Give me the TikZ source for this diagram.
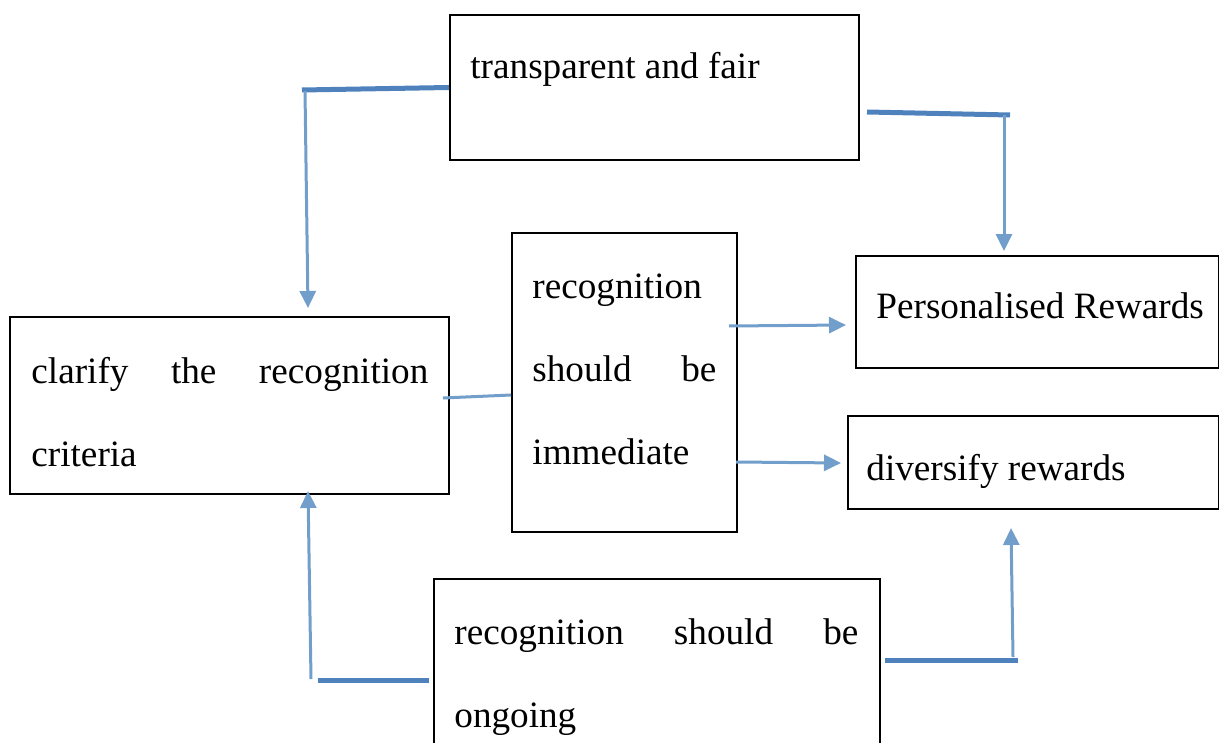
\documentclass[tikz,border=0pt]{standalone}
\usepackage{fontspec}
\setmainfont{Liberation Serif}
\usetikzlibrary{arrows.meta}
\definecolor{barblue}{RGB}{79,129,189}
\definecolor{linkblue}{RGB}{113,158,202}
\hyphenpenalty=10000
\exhyphenpenalty=10000

\begin{document}
\begin{tikzpicture}[x=0.5pt,y=-0.5pt,
    box/.style={draw,line width=1pt,inner sep=0pt,anchor=north west},
    txt/.style={inner sep=0pt,anchor=base west,font=\fontsize{18.6}{41.5}\selectfont},
    para/.style={txt,text width=#1,align=justify},
    bar/.style={draw=barblue,line width=2.5pt},
    link/.style={draw=linkblue,line width=1.5pt},
    tip/.style={link,-{Triangle[length=8.5pt,width=8pt]}}]

    \useasboundingbox (0,0) rectangle (1219,743);
    \clip (0,0) rectangle (1219,743);

    % boxes
    \node[box,minimum width=204.5pt,minimum height=72.5pt] (fair) at (449,14) {};
    \node[box,minimum width=181.5pt,minimum height=56pt] (personal) at (855,255) {};
    \node[box,minimum width=185.5pt,minimum height=46.5pt] (diversify) at (847,415) {};
    \node[box,minimum width=112.5pt,minimum height=149.5pt] (immediate) at (511,232) {};
    \node[box,minimum width=219.5pt,minimum height=88.5pt] (criteria) at (9,316) {};
    \node[box,minimum width=223pt,minimum height=100pt] (ongoing) at (433,578) {};

    % texts
    \node[txt] (fairT) at (470,79) {transparent and fair};
    \node[txt] (personalT) at (876,318) {Personalised Rewards};
    \node[txt] (diversifyT) at (866,480) {diversify rewards};
    \node[para=92pt] (immediateT) at (532,298) {recognition should be immediate};
    \node[para=198.5pt] (criteriaT) at (31,383) {clarify the recognition criteria};
    \node[para=202pt] (ongoingT) at (454,644) {recognition should be ongoing};

    % bend points
    \coordinate (tlBar) at (302,90);
    \coordinate (tlTop) at (305,91);
    \coordinate (tlEnd) at (308,308);
    \coordinate (trBarA) at (867,112);
    \coordinate (trBarB) at (1010,115);
    \coordinate (trTop) at (1004,115);
    \coordinate (trEnd) at (1004,251);
    \coordinate (midA) at (443,398);
    \coordinate (midB) at (511,395);
    \coordinate (upA) at (729,326);
    \coordinate (upEnd) at (846,325);
    \coordinate (dnA) at (736,462);
    \coordinate (dnEnd) at (841,463);
    \coordinate (blBarA) at (318,680);
    \coordinate (blBarB) at (429,680);
    \coordinate (blBot) at (311,679);
    \coordinate (blEnd) at (308,491);
    \coordinate (brBarA) at (885,660);
    \coordinate (brBarB) at (1018,660);
    \coordinate (brBot) at (1013,657);
    \coordinate (brEnd) at (1011,528);

    % connectors
    \draw[bar] (tlBar) -- (fair.west);
    \draw[tip] (tlTop) -- (tlEnd);
    \draw[bar] (trBarA) -- (trBarB);
    \draw[tip] (trTop) -- (trEnd);
    \draw[link] (midA) -- (midB);
    \draw[tip] (upA) -- (upEnd);
    \draw[tip] (dnA) -- (dnEnd);
    \draw[bar] (blBarA) -- (blBarB);
    \draw[tip] (blBot) -- (blEnd);
    \draw[bar] (brBarA) -- (brBarB);
    \draw[tip] (brBot) -- (brEnd);

\end{tikzpicture}
\end{document}
